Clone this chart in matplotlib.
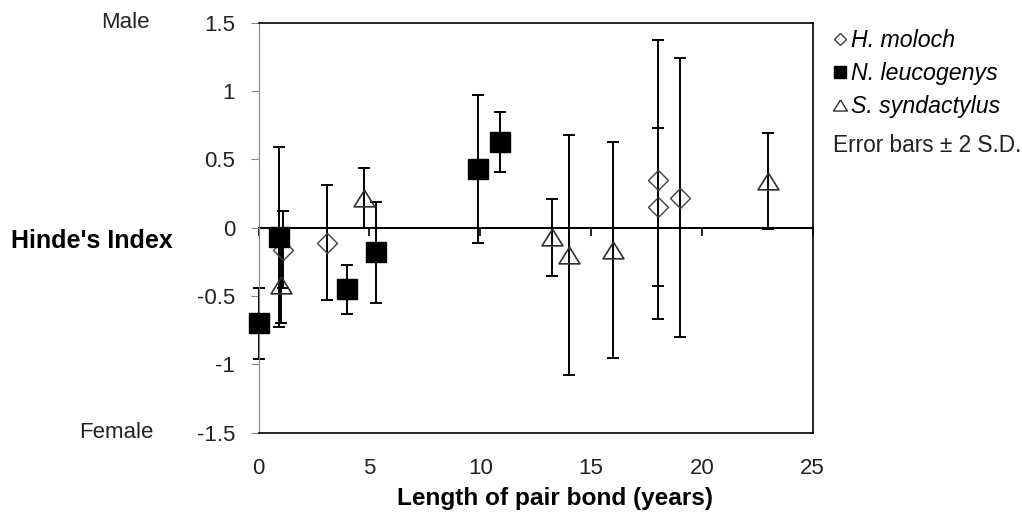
import matplotlib.pyplot as plt
from matplotlib.lines import Line2D
from matplotlib.transforms import blended_transform_factory

plt.rcParams['font.family'] = ['Liberation Sans', 'DejaVu Sans']

# H. moloch: pair bond length (years), Hinde's index, error (2 S.D.)
hm_x = [1.1, 3.1, 18.0, 18.0, 19.0]
hm_y = [-0.16, -0.11, 0.35, 0.15, 0.22]
hm_err = [0.28, 0.42, 1.02, 0.58, 1.02]

# N. leucogenys
nl_x = [0.0, 0.9, 4.0, 5.3, 9.9, 10.9]
nl_y = [-0.70, -0.07, -0.45, -0.18, 0.43, 0.63]
nl_err = [0.26, 0.66, 0.18, 0.37, 0.54, 0.22]

# S. syndactylus
ss_x = [1.0, 4.75, 13.25, 14.0, 16.0, 23.0]
ss_y = [-0.42, 0.22, -0.07, -0.20, -0.16, 0.34]
ss_err = [0.28, 0.22, 0.28, 0.88, 0.79, 0.35]

x_ticks = [0, 5, 10, 15, 20, 25]
y_ticks = [-1.5, -1, -0.5, 0, 0.5, 1, 1.5]
y_tick_labels = ['-1.5', '-1', '-0.5', '0', '0.5', '1', '1.5']
species = ['H. moloch', 'N. leucogenys', 'S. syndactylus']

# Wide, squat triangle like the original marker (closed path).
tri = [(0, 0.8), (-1, -0.8), (1, -0.8), (0, 0.8)]

fig = plt.figure(figsize=(10.22, 5.2), dpi=100)
ax = fig.add_axes([0.2531, 0.1679, 0.5421, 0.7884])
ax.set_xlim(0, 25)
ax.set_ylim(-1.5, 1.5)

# Error bars first, then the markers on top.
for x, y, e in [(hm_x, hm_y, hm_err), (nl_x, nl_y, nl_err), (ss_x, ss_y, ss_err)]:
    ax.errorbar(x, y, yerr=e, fmt='none', ecolor='black', elinewidth=1.4,
                capsize=4, capthick=1.4, zorder=2, clip_on=False)

ax.plot(hm_x, hm_y, linestyle='none', marker='D', markersize=10.5, markerfacecolor='none',
        markeredgecolor='#404040', markeredgewidth=1.0, zorder=3, clip_on=False)
ax.plot(nl_x, nl_y, linestyle='none', marker='s', markersize=15, markerfacecolor='black',
        markeredgecolor='black', zorder=3, clip_on=False)
ax.plot(ss_x, ss_y, linestyle='none', marker=tri, markersize=15, markerfacecolor='none',
        markeredgecolor='#303030', markeredgewidth=1.2, zorder=3, clip_on=False)

# Spines: grey y axis, black frame elsewhere.
ax.spines['left'].set_color('#868686')
for s in ['top', 'right', 'bottom']:
    ax.spines[s].set_color('black')
    ax.spines[s].set_linewidth(1.2)

ax.set_yticks(y_ticks)
ax.set_yticklabels(y_tick_labels)
ax.tick_params(axis='y', direction='out', length=6, color='#868686', pad=11,
               labelsize=16, labelcolor='#222222')
ax.set_xticks(x_ticks)
ax.set_xticklabels([str(t) for t in x_ticks])
ax.tick_params(axis='x', length=0, pad=18, labelsize=16, labelcolor='#222222')

# Horizontal axis crosses at zero, ticks point down from it.
sec = ax.secondary_xaxis(0.5)
sec.set_alignment('bottom')
sec.set_xticks(x_ticks)
sec.tick_params(axis='x', direction='out', length=6, width=1.2, labelbottom=False, labeltop=False)
for s in sec.spines.values():
    s.set_linewidth(1.4)

ax.set_xlabel('Length of pair bond (years)', fontsize=17.6, fontweight='bold')
ax.xaxis.set_label_coords(0.535, -0.1324)

lab_tr = blended_transform_factory(ax.transAxes, ax.transData)
ax.text(-0.196, 1.5, 'Male', transform=lab_tr, ha='right', va='center', fontsize=16, color='#222222')
ax.text(-0.19, -1.5, 'Female', transform=lab_tr, ha='right', va='center', fontsize=16, color='#222222')
ax.text(-0.155, -0.1, "Hinde's Index", transform=lab_tr, ha='right', va='center',
        fontsize=18, fontweight='bold')

handles = [
    Line2D([], [], linestyle='none', marker='D', markersize=6, markerfacecolor='none',
           markeredgecolor='#404040', markeredgewidth=1.0),
    Line2D([], [], linestyle='none', marker='s', markersize=8, markerfacecolor='black',
           markeredgecolor='black'),
    Line2D([], [], linestyle='none', marker=tri, markersize=10, markerfacecolor='none',
           markeredgecolor='#303030', markeredgewidth=1.0),
]
fig.legend(handles, species, loc='upper left', bbox_to_anchor=(0.805, 0.962), frameon=False,
           prop={'style': 'italic', 'size': 16.7}, handlelength=0.7, handletextpad=0.1,
           labelspacing=0.43, borderaxespad=0)
fig.text(0.815, 1 - 145 / 520, 'Error bars \u00b1 2 S.D.', ha='left', va='center', fontsize=16.3,
         color='#222222')

fig.savefig('out.png', dpi=100)
